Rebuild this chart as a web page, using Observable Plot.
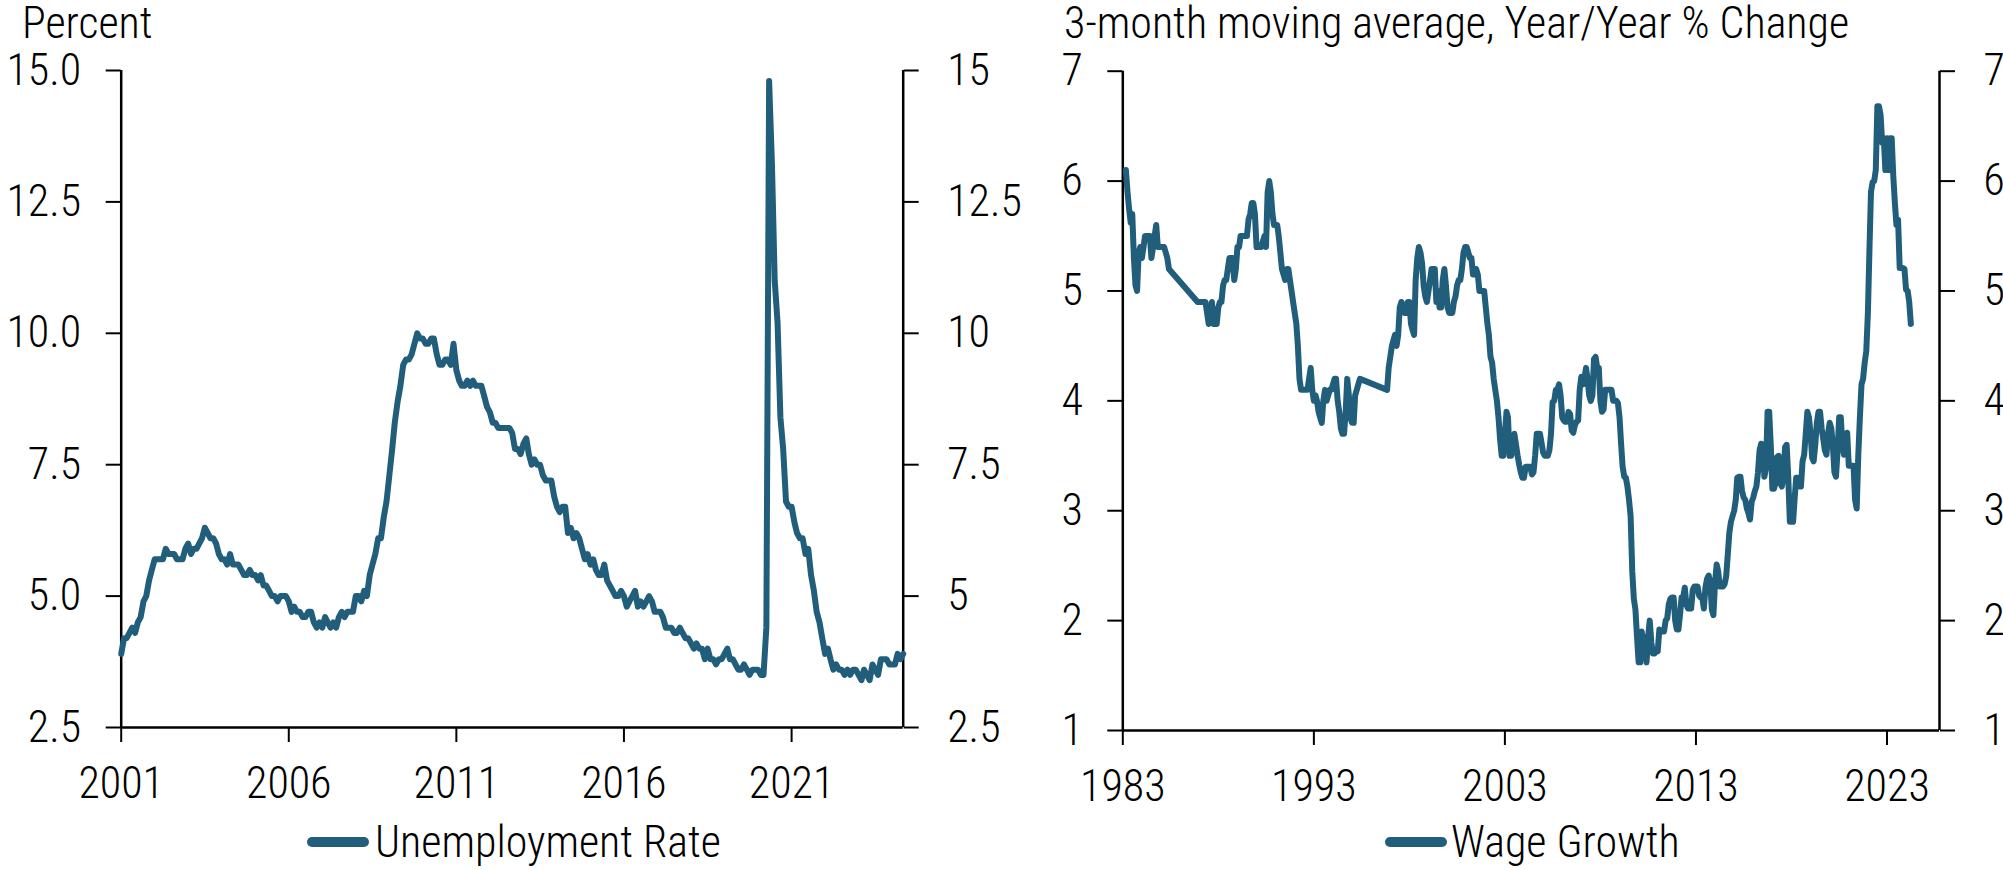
<!DOCTYPE html>
<html><head><meta charset="utf-8">
<script src="https://cdn.jsdelivr.net/npm/d3@7"></script>
<script src="https://cdn.jsdelivr.net/npm/@observablehq/plot@0.6"></script>
<style>
body{margin:0;width:2003px;height:870px;overflow:hidden;background:#fff;font-family:"Roboto Condensed","Open Sans",sans-serif;font-weight:300;}
.t{position:absolute;font-size:44px;line-height:30px;white-space:nowrap;color:#000;font-weight:300}
.sw{position:absolute;height:10px;border-radius:5px;background:#215E7B}
#left,#right{position:absolute;top:40px}
svg text{font-weight:300}
</style></head><body>
<div class="t" style="left:22px;top:8px">Percent</div>
<div class="t" style="left:1064px;top:8px">3-month moving average, Year/Year % Change</div>
<div id="left" style="left:0"></div>
<div id="right" style="left:1000px"></div>
<div class="sw" style="left:307px;top:837px;width:62px"></div>
<div class="t" style="left:375px;top:827px">Unemployment Rate</div>
<div class="sw" style="left:1385px;top:837px;width:62px"></div>
<div class="t" style="left:1451px;top:827px">Wage Growth</div>
<script>
const LINE = "#215E7B";
const FONT = '"Roboto Condensed","Open Sans",sans-serif';

// Unemployment rate, monthly, Dec 2000 .. Apr 2024 (each plotted at the start of the following month)
const unempFirst = [2001, 0];
const unempValues = [3.9,
  4.2,4.2,4.3,4.4,4.3,4.5,4.6,4.9,5.0,5.3,5.5,5.7,
  5.7,5.7,5.7,5.9,5.8,5.8,5.8,5.7,5.7,5.7,5.9,6.0,
  5.8,5.9,5.9,6.0,6.1,6.3,6.2,6.1,6.1,6.0,5.8,5.7,
  5.7,5.6,5.8,5.6,5.6,5.6,5.5,5.4,5.4,5.5,5.4,5.4,
  5.3,5.4,5.2,5.2,5.1,5.0,5.0,4.9,5.0,5.0,5.0,4.9,
  4.7,4.8,4.7,4.7,4.6,4.6,4.7,4.7,4.5,4.4,4.5,4.4,
  4.6,4.5,4.4,4.5,4.4,4.6,4.7,4.6,4.7,4.7,4.7,5.0,
  5.0,4.9,5.1,5.0,5.4,5.6,5.8,6.1,6.1,6.5,6.8,7.3,
  7.8,8.3,8.7,9.0,9.4,9.5,9.5,9.6,9.8,10.0,9.9,9.9,
  9.8,9.8,9.9,9.9,9.6,9.4,9.4,9.5,9.5,9.4,9.8,9.3,
  9.1,9.0,9.0,9.1,9.0,9.1,9.0,9.0,9.0,8.8,8.6,8.5,
  8.3,8.3,8.2,8.2,8.2,8.2,8.2,8.1,7.8,7.8,7.7,7.9,
  8.0,7.7,7.5,7.6,7.5,7.5,7.3,7.2,7.2,7.2,6.9,6.7,
  6.6,6.7,6.7,6.2,6.3,6.1,6.2,6.1,5.9,5.7,5.8,5.6,
  5.7,5.5,5.4,5.4,5.6,5.3,5.2,5.1,5.0,5.0,5.1,5.0,
  4.8,4.9,5.0,5.1,4.8,4.9,4.8,4.9,5.0,4.9,4.7,4.7,
  4.7,4.6,4.4,4.4,4.4,4.3,4.3,4.4,4.3,4.2,4.2,4.1,
  4.0,4.1,4.0,4.0,3.8,4.0,3.8,3.8,3.7,3.8,3.8,3.9,
  4.0,3.8,3.8,3.7,3.6,3.6,3.7,3.6,3.5,3.6,3.6,3.6,
  3.5,3.5,4.4,14.8,13.2,11.0,10.2,8.4,7.8,6.8,6.7,6.7,
  6.4,6.2,6.1,6.1,5.8,5.9,5.4,5.1,4.7,4.5,4.2,3.9,
  4.0,3.8,3.6,3.7,3.6,3.6,3.5,3.6,3.5,3.6,3.6,3.5,
  3.4,3.6,3.5,3.4,3.7,3.6,3.5,3.8,3.8,3.8,3.7,3.7,
  3.7,3.9,3.8,3.9];
const unempYTicks = [2.5, 5, 7.5, 10, 12.5, 15];
const unempXTicks = [2001, 2006, 2011, 2016, 2021];

// Wage growth tracker, 3-month moving average, by year (Jan..Dec), null = no data
const wageYears = [1983,1984,1985,1986,1987,1988,1989,1990,1991,1992,1993,1994,1995,1996,1997,1998,1999,2000,2001,2002,2003,2004,2005,2006,2007,2008,2009,2010,2011,2012,2013,2014,2015,2016,2017,2018,2019,2020,2021,2022,2023,2024];
const N = null;
const wageByYear = [
  [N,N,6.1,5.9,5.75,5.62,5.7,5.3,5.05,5.0,5.35,5.4],
  [5.3,5.4,5.5,5.5,5.5,5.5,5.3,5.4,5.5,5.6,5.4,5.4],
  [5.4,5.4,5.4,5.35,5.3,5.2,N,N,N,N,N,N],
  [N,N,N,N,N,N,N,N,N,N,N,4.9],
  [4.9,4.9,4.9,4.9,4.9,4.8,4.7,4.8,4.9,4.7,4.7,4.7],
  [4.85,4.9,4.9,5.05,5.1,5.1,5.2,5.3,5.3,5.3,5.1,5.2],
  [5.4,5.4,5.5,5.5,5.5,5.5,5.5,5.65,5.7,5.8,5.8,5.7],
  [5.4,5.4,5.4,5.4,5.45,5.5,5.4,5.9,6.0,5.9,5.7,5.6],
  [5.6,5.6,5.5,5.35,5.2,5.15,5.1,5.2,5.2,5.1,5.0,4.9],
  [4.8,4.7,4.5,4.2,4.1,4.1,4.1,4.1,4.1,4.2,4.3,4.1],
  [4.0,4.05,4.0,3.9,3.85,3.8,4.0,4.1,4.0,4.05,4.1,4.1],
  [4.15,4.2,4.2,4.0,3.9,3.75,3.7,3.7,3.9,4.2,4.05,3.85],
  [3.8,3.8,4.05,4.1,4.15,4.2,N,N,N,N,N,N],
  [N,N,N,N,N,N,N,N,N,N,4.1,4.3],
  [4.4,4.5,4.55,4.6,4.5,4.6,4.85,4.9,4.85,4.8,4.8,4.9],
  [4.9,4.7,4.65,4.6,5.1,5.3,5.4,5.35,5.25,5.05,4.95,4.9],
  [5.0,5.1,5.2,5.2,5.2,4.9,5.0,4.85,4.85,5.1,5.2,5.05],
  [4.85,4.8,4.8,4.8,4.9,4.95,5.05,5.1,5.1,5.2,5.35,5.4],
  [5.4,5.35,5.3,5.3,5.15,5.15,5.2,5.15,5.0,5.0,5.0,5.0],
  [4.85,4.7,4.6,4.4,4.35,4.2,4.1,4.0,3.85,3.65,3.5,3.5],
  [3.7,3.9,3.85,3.5,3.5,3.6,3.7,3.6,3.5,3.42,3.35,3.3],
  [3.3,3.4,3.4,3.4,3.4,3.33,3.35,3.5,3.7,3.7,3.7,3.62],
  [3.53,3.5,3.5,3.5,3.55,3.7,3.99,4.0,4.1,4.1,4.15,4.05],
  [3.85,3.82,3.81,3.81,3.9,3.88,3.73,3.71,3.78,3.81,3.82,4.1],
  [4.22,4.15,4.2,4.3,4.2,4.05,4.0,4.05,4.38,4.4,4.3,4.3],
  [4.0,3.9,3.92,4.1,4.1,4.1,4.1,4.1,4.0,4.0,4.0,3.98],
  [3.85,3.6,3.4,3.31,3.3,3.22,3.1,2.95,2.45,2.2,2.1,1.85],
  [1.62,1.62,1.9,1.75,1.85,1.62,1.85,2.0,1.8,1.7,1.7,1.72],
  [1.72,1.92,1.9,1.9,1.9,2.0,2.02,2.15,2.2,2.21,2.21,2.0],
  [1.92,1.92,2.05,2.21,2.21,2.3,2.15,2.11,2.11,2.11,2.28,2.31],
  [2.31,2.31,2.23,2.21,2.21,2.11,2.3,2.38,2.41,2.35,2.1,2.05],
  [2.35,2.51,2.45,2.31,2.31,2.31,2.33,2.4,2.6,2.8,2.9,2.95],
  [3.0,3.1,3.3,3.31,3.31,3.18,3.12,3.1,3.02,2.98,2.92,3.08],
  [3.12,3.18,3.22,3.35,3.55,3.61,3.6,3.31,3.39,3.9,3.9,3.6],
  [3.2,3.2,3.25,3.49,3.5,3.25,3.22,3.3,3.58,3.6,3.3,2.9],
  [2.9,2.9,3.1,3.3,3.3,3.22,3.22,3.45,3.51,3.7,3.9,3.85],
  [3.7,3.48,3.45,3.6,3.8,3.9,3.9,3.75,3.65,3.55,3.51,3.7],
  [3.8,3.75,3.6,3.35,3.31,3.55,3.85,3.85,3.6,3.51,3.65,3.71],
  [3.41,3.41,3.41,3.41,3.1,3.02,3.5,3.85,4.15,4.2,4.35,4.45],
  [4.8,5.4,5.9,5.99,6.0,6.1,6.68,6.68,6.6,6.35,6.39,6.1],
  [6.39,6.1,6.39,6.39,6.05,5.8,5.6,5.65,5.21,5.21,5.21,5.2],
  [5.01,5.0,4.9,4.7]
];
const wageYTicks = [1, 2, 3, 4, 5, 6, 7];
const wageXTicks = [1983, 1993, 2003, 2013, 2023];

const unemp = unempValues.map((v, i) => ({date: new Date(Date.UTC(unempFirst[0], unempFirst[1] + i, 1)), value: v}));
const wage = [];
wageYears.forEach((y, yi) => wageByYear[yi].forEach((v, mi) => { if (v != null) wage.push({date: new Date(Date.UTC(y, mi, 1)), value: v}); }));

const yr = y => new Date(Date.UTC(y, 0, 1));

function panel({data, xDomain, yDomain, yTicks, xTicks, leftFmt, rightFmt, width, ml, mr, mt, mb}) {
  return Plot.plot({
    width, height: 770,
    marginLeft: ml, marginRight: mr, marginTop: mt, marginBottom: mb,
    x: {type: "utc", domain: xDomain},
    y: {domain: yDomain},
    style: {fontFamily: FONT, fontSize: "44px", fontWeight: 300, color: "#000", background: "transparent", overflow: "visible"},
    marks: [
      Plot.ruleX([xDomain[0], xDomain[1]], {stroke: "#000", strokeWidth: 2.5}),
      Plot.ruleY([yDomain[0]], {stroke: "#000", strokeWidth: 2.5}),
      Plot.axisY(yTicks, {anchor: "left", tickSize: 15, tickPadding: 25, tickFormat: leftFmt, label: null, strokeWidth: 2, fontSize: 44, fill: "#000"}),
      Plot.axisY(yTicks, {anchor: "right", tickSize: 15, tickPadding: 29, tickFormat: rightFmt, label: null, strokeWidth: 2, fontSize: 44, fill: "#000"}),
      Plot.axisX(xTicks.map(yr), {anchor: "bottom", tickSize: 15, tickPadding: 24, tickFormat: d => String(d.getUTCFullYear()), label: null, strokeWidth: 2, fontSize: 44, fill: "#000"}),
      Plot.lineY(data, {x: "date", y: "value", stroke: LINE, strokeWidth: 6, strokeLinejoin: "round", strokeLinecap: "round"})
    ]
  });
}

document.getElementById("left").append(panel({
  data: unemp,
  xDomain: [unemp[0].date, unemp[unemp.length - 1].date],
  yDomain: [2.5, 15], yTicks: unempYTicks, xTicks: unempXTicks,
  leftFmt: d => d.toFixed(1), rightFmt: d => String(d),
  width: 1000, ml: 120.7, mr: 97.3, mt: 30, mb: 83
}));

document.getElementById("right").append(panel({
  data: wage,
  xDomain: [yr(1983), new Date(Date.UTC(2025, 9, 1))],
  yDomain: [1, 7], yTicks: wageYTicks, xTicks: wageXTicks,
  leftFmt: d => String(d), rightFmt: d => String(d),
  width: 1003, ml: 122.3, mr: 64, mt: 30.7, mb: 80
}));
</script>
</body></html>
